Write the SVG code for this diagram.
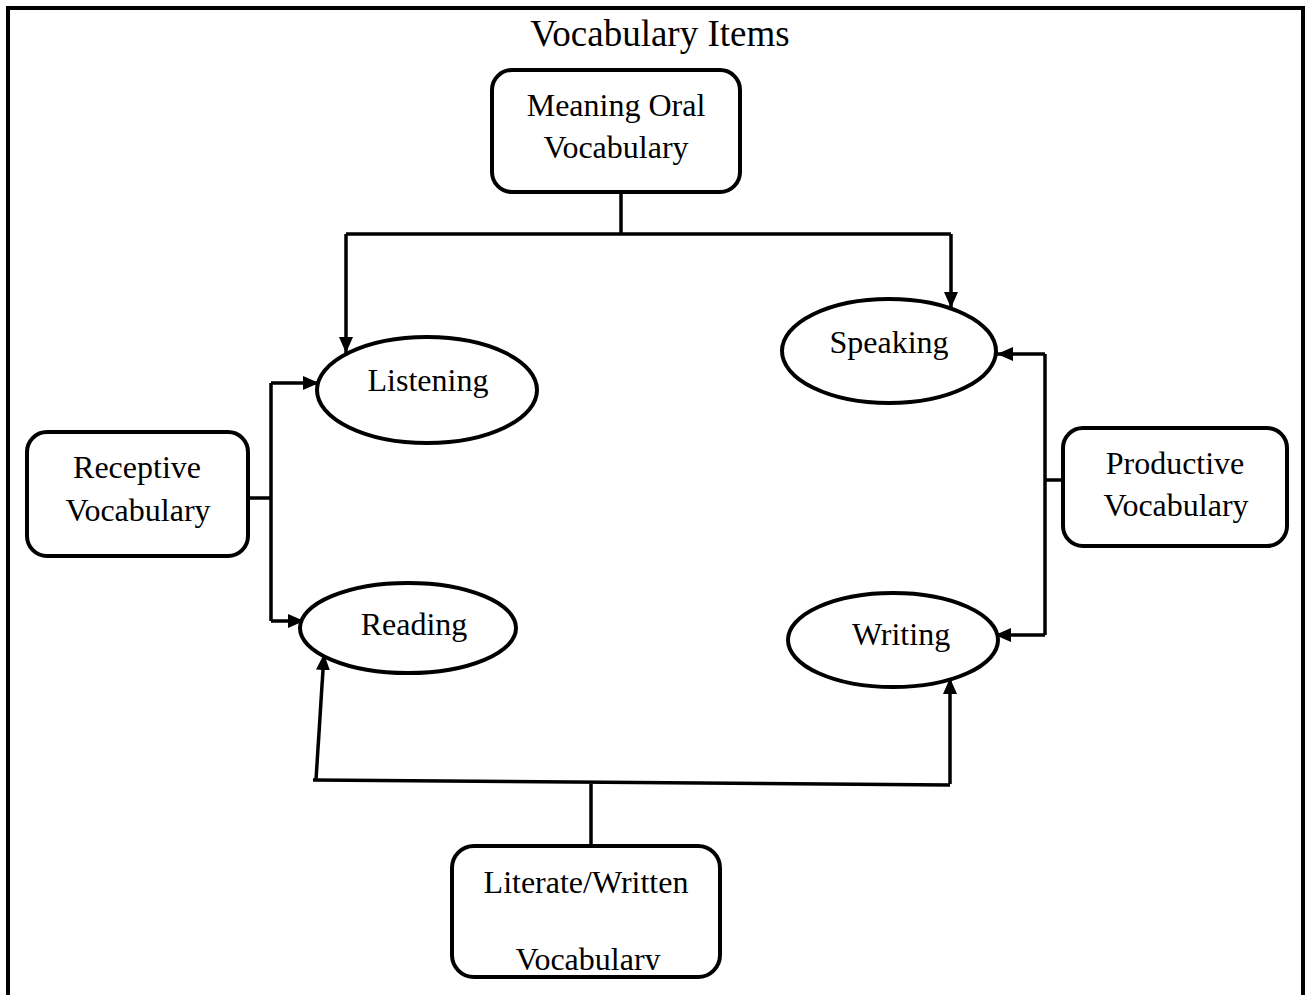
<svg xmlns="http://www.w3.org/2000/svg" width="1307" height="995" viewBox="0 0 1307 995">
<style>
  .frame{fill:none;stroke:#000;stroke-width:4}
  .box{fill:#fff;stroke:#000;stroke-width:4}
  .ell{fill:#fff;stroke:#000;stroke-width:4}
  .ln{fill:none;stroke:#000;stroke-width:3.5}
  .arr{fill:none;stroke:#000;stroke-width:3.5;marker-end:url(#ah)}
  text{font-family:"Liberation Serif","Times New Roman",serif;fill:#000;text-anchor:middle}
  .t{font-size:32px}
  .title{font-size:37px}
</style>
<defs>
  <marker id="ah" markerUnits="userSpaceOnUse" markerWidth="18" markerHeight="16" refX="16" refY="7" orient="auto">
    <path d="M0,0 L16,7 L0,14 z" fill="#000"/>
  </marker>
  <clipPath id="clipLit">
    <rect x="452" y="900" width="268" height="70"/>
  </clipPath>
</defs>
<rect width="1307" height="995" fill="#fff"/>
<path class="frame" d="M8,995 V8 H1303 V995"/>
<text class="title" x="660" y="46">Vocabulary Items</text>

<g id="connectors">
  <path class="ln" d="M621,192 V234"/>
  <path class="ln" d="M346,234 H951"/>
  <path class="arr" d="M346,234 V353"/>
  <path class="arr" d="M951,234 V308"/>
  <path class="ln" d="M248,498 H271"/>
  <path class="ln" d="M271,383 V621"/>
  <path class="arr" d="M271,383 H319"/>
  <path class="arr" d="M271,621 H304"/>
  <path class="ln" d="M1045,480 H1063"/>
  <path class="ln" d="M1045,354 V635"/>
  <path class="arr" d="M1045,354 H997"/>
  <path class="arr" d="M1045,635 H995"/>
  <path class="ln" d="M313,780 L950,785"/>
  <path class="ln" d="M591,784 V846"/>
  <path class="arr" d="M316,780 L324,654"/>
  <path class="arr" d="M950,784 V678"/>
</g>

<g id="meaning-oral">
  <rect class="box" x="492" y="70" width="248" height="122" rx="20"/>
  <text class="t" x="616" y="116">Meaning Oral</text>
  <text class="t" x="616" y="158">Vocabulary</text>
</g>
<g id="listening">
  <ellipse class="ell" cx="427" cy="390" rx="110" ry="53"/>
  <text class="t" x="428" y="391">Listening</text>
</g>
<g id="speaking">
  <ellipse class="ell" cx="889" cy="351" rx="107" ry="52"/>
  <text class="t" x="889" y="353">Speaking</text>
</g>
<g id="reading">
  <ellipse class="ell" cx="408" cy="628" rx="108" ry="45"/>
  <text class="t" x="414" y="635">Reading</text>
</g>
<g id="writing">
  <ellipse class="ell" cx="893" cy="640" rx="105" ry="47"/>
  <text class="t" x="901" y="645">Writing</text>
</g>
<g id="receptive">
  <rect class="box" x="27" y="432" width="221" height="124" rx="20"/>
  <text class="t" x="137" y="478">Receptive</text>
  <text class="t" x="138" y="521">Vocabulary</text>
</g>
<g id="productive">
  <rect class="box" x="1063" y="428" width="224" height="118" rx="20"/>
  <text class="t" x="1175" y="474">Productive</text>
  <text class="t" x="1176" y="516">Vocabulary</text>
</g>
<g id="literate">
  <rect class="box" x="452" y="846" width="268" height="131" rx="22"/>
  <text class="t" x="586" y="893">Literate/Written</text>
  <text class="t" x="588" y="970" clip-path="url(#clipLit)">Vocabulary</text>
</g>
</svg>
